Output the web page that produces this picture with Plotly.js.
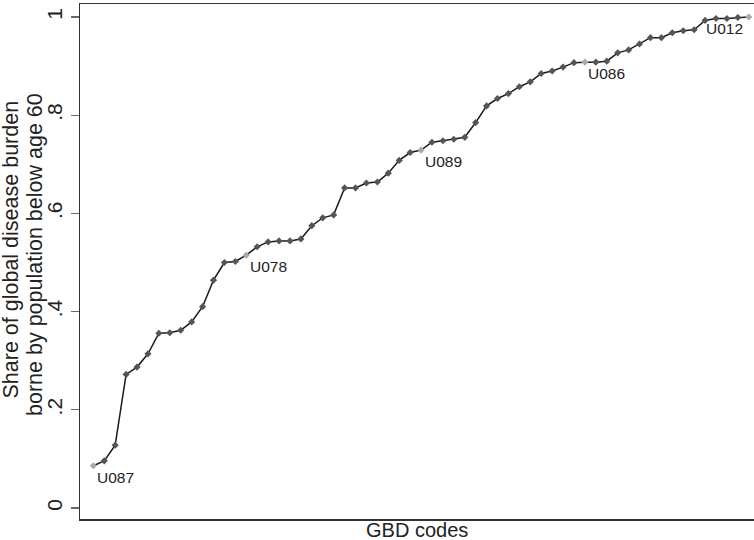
<!DOCTYPE html>
<html>
<head>
<meta charset="utf-8">
<script src="https://cdn.plot.ly/plotly-3.0.1.min.js"></script>
<style>html,body{margin:0;padding:0;background:#fff;}#chart{width:754px;height:540px;}</style>
</head>
<body>
<div id="chart"></div>
<script>
// Rank of each GBD code (sorted by share)
const ranks = [1,2,3,4,5,6,7,8,9,10,11,12,13,14,15,16,17,18,19,20,
  21,22,23,24,25,26,27,28,29,30,31,32,33,34,35,36,37,38,39,40,
  41,42,43,44,45,46,47,48,49,50,51,52,53,54,55,56,57,58,59,60,61];
// Cumulative share of global disease burden borne by population below age 60
const shares = [0.086,0.096,0.128,0.272,0.287,0.314,0.356,0.357,0.362,0.379,
  0.410,0.464,0.500,0.502,0.515,0.532,0.542,0.544,0.544,0.548,
  0.575,0.591,0.597,0.652,0.652,0.662,0.664,0.682,0.708,0.724,
  0.729,0.745,0.748,0.751,0.755,0.785,0.819,0.834,0.844,0.858,
  0.868,0.885,0.890,0.898,0.907,0.908,0.908,0.910,0.927,0.933,
  0.945,0.958,0.958,0.968,0.972,0.974,0.993,0.997,0.997,0.999,1.000];
// Labelled codes
const labelCodes = ["U087","U078","U089","U086","U012"];
const labelRanks = [1,15,31,46,61];
const labelSide = ["right","right","right","right","left"];
const yTickVals = [0,0.2,0.4,0.6,0.8,1];
const yTickText = ["0",".2",".4",".6",".8","1"];
const xTitle = "GBD codes";
const yTitleLines = ["Share of global disease burden", "borne by population below age 60"];

const labelShares = labelRanks.map(r => shares[ranks.indexOf(r)]);
const markerColors = ranks.map(r => labelRanks.includes(r) ? "#a9a9a9" : "#555555");

const font = "Liberation Sans, Arial, Helvetica, sans-serif";

const traces = [{
  x: ranks, y: shares, type: "scatter", mode: "lines+markers",
  line: {color: "#1a1a1a", width: 1.5},
  marker: {symbol: "diamond", size: 5.5, color: markerColors, line: {width: 0}},
  hoverinfo: "x+y", showlegend: false
}];

const annotations = labelCodes.map((c, i) => ({
  x: labelRanks[i], y: labelShares[i], xref: "x", yref: "y",
  text: c, showarrow: false,
  xanchor: labelSide[i] === "right" ? "left" : "right",
  yanchor: "middle",
  xshift: labelSide[i] === "right" ? 1.5 : -3.5,
  yshift: -11.5,
  font: {family: font, size: 15.5, color: "#222"}
}));
annotations.push({
  x: 0.5, y: 0, xref: "paper", yref: "paper", text: xTitle, showarrow: false,
  xanchor: "center", yanchor: "middle", yshift: -11,
  font: {family: font, size: 20, color: "#222"}
});
const yTitlePos = [{y: 0.5223, xshift: -68.5}, {y: 0.5126, xshift: -45}];
yTitleLines.forEach((t, i) => annotations.push({
  x: 0, y: yTitlePos[i].y, xref: "paper", yref: "paper", text: t, showarrow: false,
  xanchor: "center", yanchor: "middle", xshift: yTitlePos[i].xshift, textangle: -90,
  font: {family: font, size: 21.5, color: "#222"}
}));

const layout = {
  width: 754, height: 540,
  margin: {l: 80, r: 0, t: 4, b: 21, pad: 0},
  paper_bgcolor: "#fff", plot_bgcolor: "#fff",
  font: {family: font, color: "#222"},
  xaxis: {
    range: [-0.22, 61.48], showticklabels: false, ticks: "", showgrid: false,
    zeroline: false, showline: true, mirror: true, linecolor: "#333", linewidth: 1.5,
    fixedrange: true
  },
  yaxis: {
    range: [-0.0224, 1.0265], tickvals: yTickVals, ticktext: yTickText,
    tickangle: -90, ticks: "outside", ticklen: 8, tickwidth: 1.3, tickcolor: "#666",
    tickfont: {family: font, size: 21, color: "#222"},
    showgrid: false, zeroline: false, showline: true, mirror: false,
    linecolor: "#333", linewidth: 1.5, fixedrange: true
  },
  annotations: annotations
};

Plotly.newPlot("chart", traces, layout, {displayModeBar: false, staticPlot: true});
</script>
</body>
</html>
